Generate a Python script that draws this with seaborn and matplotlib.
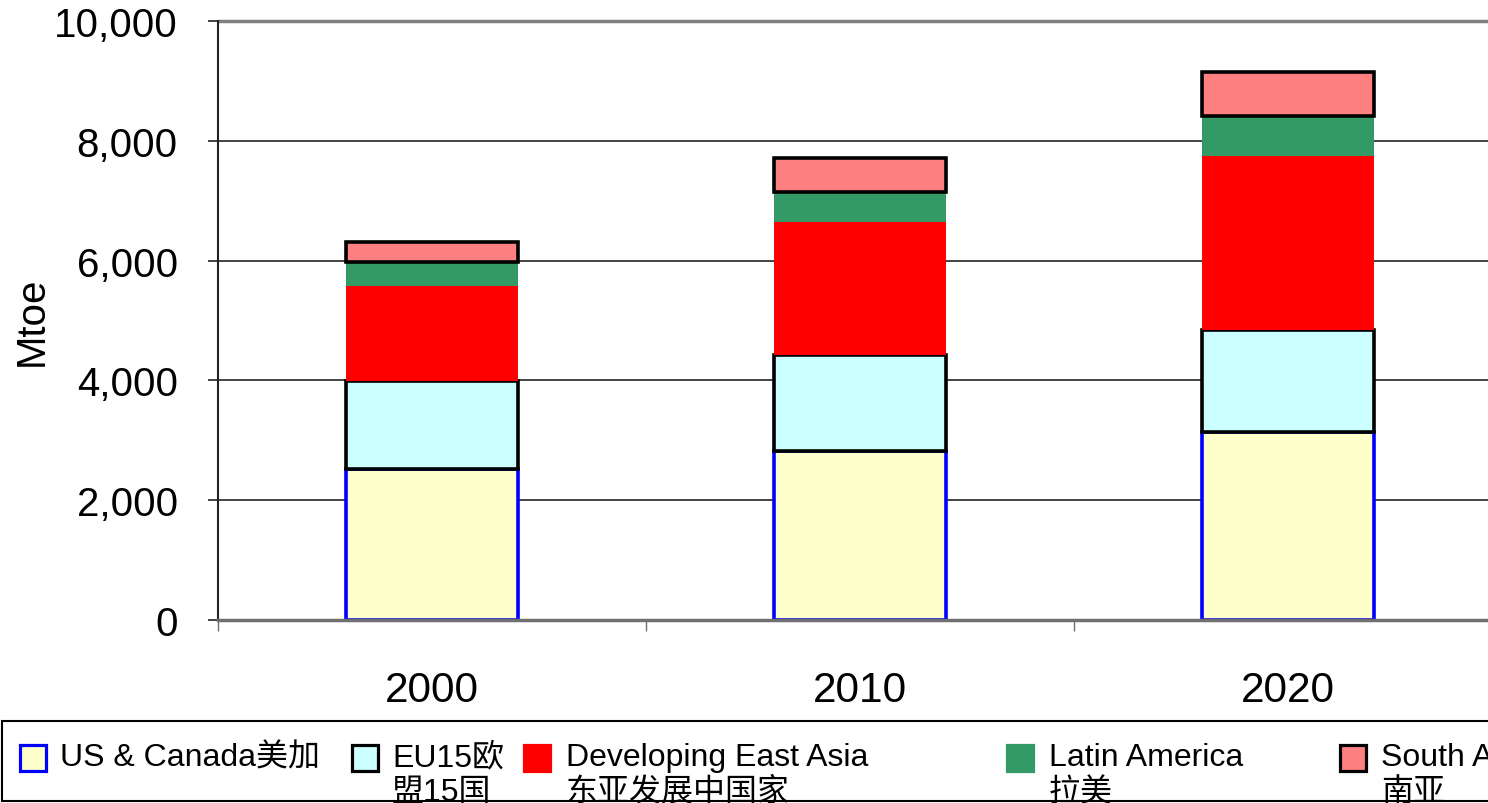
import numpy as np
import pandas as pd
import matplotlib
matplotlib.use("Agg")
import matplotlib.pyplot as plt
from matplotlib.patches import Rectangle
import seaborn as sns

# values (Mtoe)
years = ["2000", "2010", "2020"]
regions = ["US & Canada", "EU15", "Developing East Asia", "Latin America", "South Asia"]
us_canada = [2520, 2820, 3140]
eu15 = [1470, 1600, 1700]
east_asia = [1590, 2220, 2905]
latin_america = [400, 500, 670]
south_asia = [335, 570, 735]

legend_line1 = ["US & Canada美加", "EU15欧", "Developing East Asia", "Latin America", "South Asia"]
legend_line2 = ["", "盟15国", "东亚发展中国家", "拉美", "南亚"]

fills = ["#FFFFCC", "#CCFFFF", "#FF0000", "#339966", "#FF8080"]
edges = ["#0000FF", "#000000", None, None, "#000000"]

sns.set_style("white")
plt.rcParams["font.family"] = ["Liberation Sans", "Noto Sans CJK SC"]
plt.rcParams["text.color"] = "black"
plt.rcParams["axes.labelcolor"] = "black"
plt.rcParams["xtick.color"] = "black"
plt.rcParams["ytick.color"] = "black"

df = pd.DataFrame({
    "year": years,
    "US & Canada": us_canada,
    "EU15": eu15,
    "Developing East Asia": east_asia,
    "Latin America": latin_america,
    "South Asia": south_asia,
})

W, H = 1488, 804
fig = plt.figure(figsize=(W / 100, H / 100), dpi=100)
ax = fig.add_axes([218 / W, 1 - 621 / H, 1284 / W, 599 / H])

bottom = np.zeros(len(years))
for reg, fc, ec in zip(regions, fills, edges):
    kw = dict(edgecolor=ec, linewidth=2.6) if ec else dict(linewidth=0)
    sns.barplot(data=df, x="year", y=reg, order=years, color=fc, saturation=1,
                width=0.4, bottom=bottom, ax=ax, zorder=3, **kw)
    bottom = bottom + df[reg].values

ax.set_xlim(-0.5, 2.5)
ax.set_ylim(0, 10000)
ax.set_yticks(np.arange(0, 10001, 2000))
ax.set_yticklabels([f"{v:,}" for v in range(0, 10001, 2000)])
ax.set_xlabel("")
ax.set_ylabel("Mtoe", fontsize=29, labelpad=2)

for y in range(2000, 10000, 2000):
    ax.axhline(y, color="#111111", lw=1.1, zorder=1)
ax.axhline(10000, color="#808080", lw=2.5, zorder=1, clip_on=False)

ax.spines["top"].set_visible(False)
ax.spines["right"].set_visible(False)
ax.spines["left"].set_color("#222222")
ax.spines["left"].set_linewidth(1.5)
ax.spines["bottom"].set_color("#707070")
ax.spines["bottom"].set_linewidth(2.5)
ax.spines["bottom"].set_zorder(4)

ax.tick_params(axis="y", direction="out", length=7, width=1.2, color="#222222",
               pad=22, labelsize=29, left=True)
ax.tick_params(axis="x", which="major", length=0, pad=36, labelsize=30.5)
ax.set_xticks([-0.5, 0.5, 1.5, 2.5], minor=True)
ax.tick_params(axis="x", which="minor", direction="out", length=8, width=1,
               color="#707070", bottom=True)

# legend box along the bottom
fig.add_artist(Rectangle((2 / W, 1 - 802 / H), 1500 / W, 80 / H, transform=fig.transFigure,
                         facecolor="white", edgecolor="black", lw=1.5))
mark_x = [20, 352, 524, 1007, 1340]
text_x = [60, 392, 566, 1049, 1381]
for i in range(len(regions)):
    ec = edges[i] if edges[i] else fills[i]
    fig.add_artist(Rectangle((mark_x[i] / W, 1 - 772 / H), 26 / W, 26 / H,
                             transform=fig.transFigure, facecolor=fills[i],
                             edgecolor=ec, lw=2.3))
    fig.text(text_x[i] / W, 1 - 766 / H, legend_line1[i], fontsize=23, va="baseline")
    if legend_line2[i]:
        fig.text(text_x[i] / W, 1 - 801 / H, legend_line2[i], fontsize=23, va="baseline")

fig.savefig("out.png", dpi=100)
